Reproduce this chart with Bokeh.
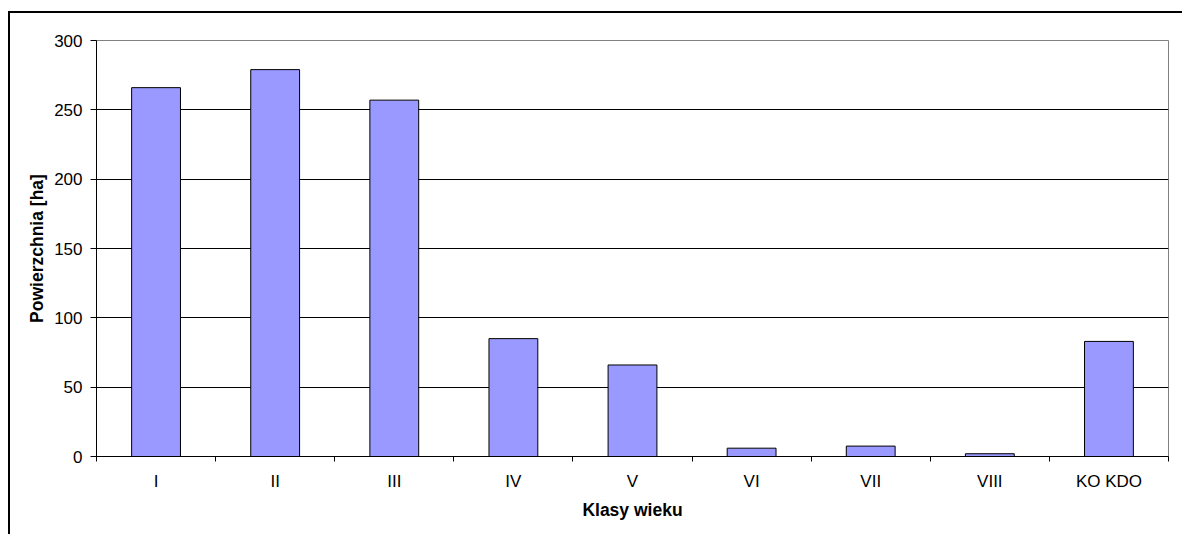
from bokeh.plotting import figure
from bokeh.models import Range1d, FixedTicker, ColumnDataSource
from bokeh.embed import file_html
from bokeh.resources import INLINE

categories = ["I", "II", "III", "IV", "V", "VI", "VII", "VIII", "KO KDO"]
values = [266, 279, 257, 85, 66, 6, 7.5, 2, 83]
y_ticks = [0, 50, 100, 150, 200, 250, 300]
x_title = "Klasy wieku"
y_title = "Powierzchnia [ha]"

centers = [i + 0.5 for i in range(len(categories))]
bounds = list(range(len(categories) + 1))

src = ColumnDataSource(dict(x=centers, top=values, cat=categories))

p = figure(width=1174, height=523, output_backend="svg", toolbar_location=None,
           x_range=Range1d(0, len(categories)), y_range=Range1d(0, 300),
           min_border_left=86, min_border_right=16, min_border_top=27, min_border_bottom=80)
p.styles = {"margin-left": "8px", "margin-top": "11px",
            "border-left": "2px solid #000000", "border-top": "2px solid #000000"}

p.vbar(x="x", top="top", width=0.41, bottom=0, source=src,
       fill_color="#9999FF", line_color="#000000", line_width=1)

p.outline_line_color = "#808080"
p.outline_line_width = 1
p.background_fill_color = "white"
p.border_fill_color = "white"

font = "Liberation Sans"

# x axis
xa = p.xaxis[0]
xa.ticker = FixedTicker(ticks=centers, minor_ticks=bounds)
xa.major_label_overrides = {c: n for c, n in zip(centers, categories)}
xa.major_tick_line_color = None
xa.major_tick_out = 0
xa.major_tick_in = 0
xa.minor_tick_out = 5
xa.minor_tick_in = 0
xa.minor_tick_line_color = "#000000"
xa.axis_line_color = "#000000"
xa.major_label_standoff = 10
xa.major_label_text_font = font
xa.major_label_text_font_size = "17px"
xa.major_label_text_color = "#000000"
xa.axis_label = x_title
xa.axis_label_text_font = font
xa.axis_label_text_font_size = "17.5px"
xa.axis_label_text_font_style = "bold"
xa.axis_label_text_color = "#000000"
xa.axis_label_standoff = 6

# y axis
ya = p.yaxis[0]
ya.ticker = FixedTicker(ticks=y_ticks)
ya.minor_tick_line_color = None
ya.major_tick_out = 6
ya.major_tick_in = 0
ya.major_tick_line_color = "#000000"
ya.axis_line_color = "#000000"
ya.major_label_standoff = 8
ya.major_label_text_font = font
ya.major_label_text_font_size = "17px"
ya.major_label_text_color = "#000000"
ya.axis_label = y_title
ya.axis_label_text_font = font
ya.axis_label_text_font_size = "17.5px"
ya.axis_label_text_font_style = "bold"
ya.axis_label_text_color = "#000000"
ya.axis_label_standoff = 4

p.xgrid.visible = False
p.ygrid.ticker = FixedTicker(ticks=y_ticks[:-1])
p.ygrid.grid_line_color = "#000000"
p.ygrid.grid_line_width = 1

open("out.html", "w").write(file_html(p, INLINE))
